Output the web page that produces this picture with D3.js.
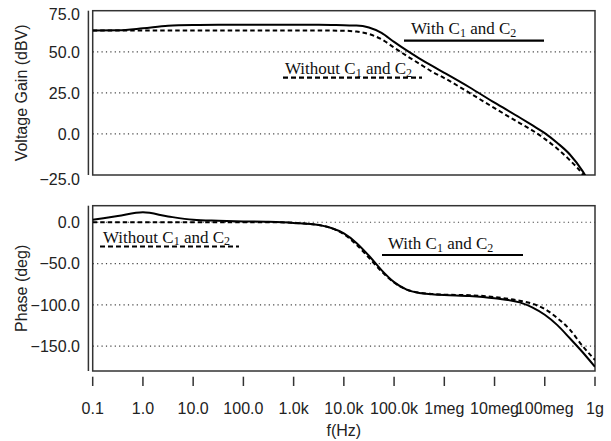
<!DOCTYPE html>
<head>
  <meta charset="utf-8">
  <title>Bode plot</title>
  <script src="https://d3js.org/d3.v7.min.js"></script>
  <style>
    body { margin:0; background:#fff; }
    svg { display:block; }
    .tick-label { font-family: "Liberation Sans", Arial, sans-serif; font-size: 16px; fill: #222; }
    .legend { font-family: "Liberation Serif", "Times New Roman", serif; font-size: 17px; fill: #111; }
  </style>
</head>

<body>
  <svg width="611" height="441"></svg>
  <script>
    // data
    var freqHz = [0.1, 0.316, 1, 3.16, 10, 31.6, 100, 316, 1e3, 3.16e3, 5.62e3, 1e4, 1.78e4,
      3.16e4, 5.62e4, 1e5, 1.78e5, 3.16e5, 5.62e5, 1e6, 3.16e6, 1e7, 3.16e7, 5.62e7, 1e8,
      1.78e8, 3.16e8, 5.62e8, 1e9];
    var gainWith = [63.0, 63.1, 64.3, 65.9, 66.3, 66.4, 66.4, 66.4, 66.4, 66.4, 66.3, 66.1, 66.0,
      64.8, 61.5, 56.0, 50.8, 46.0, 41.5, 37.2, 28.4, 19.0, 10.0, 5.3, 0.5, -5.5, -12.5, -22.5, -36];
    var gainWithout = [63.0, 63.0, 63.0, 63.0, 63.0, 63.0, 63.0, 63.0, 63.0, 63.0, 62.9, 62.8, 62.3,
      60.8, 57.6, 52.5, 47.5, 42.8, 38.0, 34.0, 25.0, 15.7, 6.6, 2.2, -3.0, -9.0, -16.0, -24.5, -38.0];
    var phaseWith = [3.0, 7.5, 12.0, 7.0, 3.0, 1.8, 1.0, 0.5, -0.8, -3.4, -7.0, -13.5, -25.0,
      -40.5, -58.0, -72.5, -81.5, -85.5, -87.0, -88.0, -89.2, -92.0, -97.0, -103.0, -112.0,
      -124.5, -140.4, -157.0, -175.0];
    var phaseWithout = [0, 0, 0, 0, 0, 0, 0, 0, -0.8, -3.4, -7.0, -14.5, -27.0,
      -43.0, -59.5, -73.0, -81.5, -85.3, -86.8, -87.6, -88.3, -90.5, -95.0, -98.5, -105.0,
      -116.0, -130.0, -149.5, -166.7];

    var freqTicks = [0.1, 1, 10, 100, 1e3, 1e4, 1e5, 1e6, 1e7, 1e8, 1e9];
    var freqLabels = ["0.1", "1.0", "10.0", "100.0", "1.0k", "10.0k", "100.0k", "1meg", "10meg", "100meg", "1g"];
    var gainTicks = [75, 50, 25, 0, -25];
    var phaseTicks = [0, -50, -100, -150];

    var svg = d3.select('svg');
    var left = 92.7, right = 595;

    var x = d3.scaleLog().domain([0.1, 1e9]).range([left, right]);

    var panels = [
      { id: 'gain', domain: [-25, 75], range: [175, 10.7], ticks: gainTicks, grid: [50, 25, 0],
        title: 'Voltage Gain (dBV)', solid: gainWith, dashed: gainWithout },
      { id: 'phase', domain: [-180, 20], range: [371, 205.7], ticks: phaseTicks, grid: [0, -50, -100, -150],
        title: 'Phase (deg)', solid: phaseWith, dashed: phaseWithout }
    ];

    panels.forEach(function(p) {
      var y = d3.scaleLinear().domain(p.domain).range(p.range);
      var top = p.range[1], bottom = p.range[0];
      var g = svg.append('g');

      g.append('clipPath').attr('id', 'clip-' + p.id)
        .append('rect').attr('x', left).attr('y', top)
        .attr('width', right - left).attr('height', bottom - top);

      // dotted grid
      g.selectAll('.grid').data(p.grid).enter().append('line')
        .attr('x1', left).attr('x2', right)
        .attr('y1', d => y(d)).attr('y2', d => y(d))
        .attr('stroke', '#444').attr('stroke-width', 1.2)
        .attr('stroke-dasharray', '1.2,3.2');

      // frame and left axis line
      g.append('rect').attr('x', left).attr('y', top)
        .attr('width', right - left).attr('height', bottom - top)
        .attr('fill', 'none').attr('stroke', '#333').attr('stroke-width', 1.5);
      g.append('line').attr('x1', left - 4.3).attr('x2', left - 4.3)
        .attr('y1', top).attr('y2', bottom)
        .attr('stroke', '#333').attr('stroke-width', 1.5);

      // y tick labels (end labels sit a little lower, as in the original)
      var ends = d3.extent(p.domain);
      g.selectAll('.yl').data(p.ticks).enter().append('text')
        .attr('class', 'tick-label')
        .attr('x', 80).attr('y', d => y(d) + ((d === ends[0] || d === ends[1]) ? 4 : 0))
        .attr('dy', '0.36em')
        .attr('text-anchor', 'end')
        .text(d => d3.format('.1f')(d));

      // y title
      g.append('text').attr('class', 'tick-label')
        .attr('transform', 'translate(27,' + ((top + bottom) / 2) + ') rotate(-90)')
        .attr('text-anchor', 'middle')
        .text(p.title);

      var line = d3.line()
        .x((d, i) => x(freqHz[i]))
        .y(d => y(d))
        .curve(d3.curveMonotoneX);

      var curves = g.append('g').attr('clip-path', 'url(#clip-' + p.id + ')');
      curves.append('path').datum(p.dashed)
        .attr('d', line).attr('fill', 'none').attr('stroke', '#000')
        .attr('stroke-width', 2).attr('stroke-dasharray', '4.5,3');
      curves.append('path').datum(p.solid)
        .attr('d', line).attr('fill', 'none').attr('stroke', '#000')
        .attr('stroke-width', 2);
    });

    // x axis ticks (no baseline)
    svg.selectAll('.xt').data(freqTicks).enter().append('line')
      .attr('x1', d => x(d)).attr('x2', d => x(d))
      .attr('y1', 376.7).attr('y2', 386)
      .attr('stroke', '#333').attr('stroke-width', 1.5);
    svg.selectAll('.xl').data(freqTicks).enter().append('text')
      .attr('class', 'tick-label')
      .attr('x', d => x(d)).attr('y', 414)
      .attr('text-anchor', 'middle')
      .text((d, i) => freqLabels[i]);
    svg.append('text').attr('class', 'tick-label')
      .attr('x', (left + right) / 2).attr('y', 436)
      .attr('text-anchor', 'middle')
      .text('f(Hz)');

    // legends
    function legend(tx, ty, label, lx1, lx2, ly, dashed) {
      var t = svg.append('text').attr('class', 'legend').attr('x', tx).attr('y', ty);
      t.append('tspan').text(label + ' C');
      t.append('tspan').attr('font-size', 12).attr('dy', 2.5).text('1');
      t.append('tspan').attr('dy', -2.5).text(' and C');
      t.append('tspan').attr('font-size', 12).attr('dy', 2.5).text('2');
      svg.append('line').attr('x1', lx1).attr('x2', lx2).attr('y1', ly).attr('y2', ly)
        .attr('stroke', '#000').attr('stroke-width', 2.2)
        .attr('stroke-dasharray', dashed ? '5,3' : null);
    }
    legend(411, 34, 'With', 404, 544, 40.7, false);
    legend(285, 74, 'Without', 283, 422, 77.7, true);
    legend(103, 242.7, 'Without', 100, 239, 246.5, true);
    legend(388, 249.3, 'With', 382, 523, 255, false);
  </script>
</body>
